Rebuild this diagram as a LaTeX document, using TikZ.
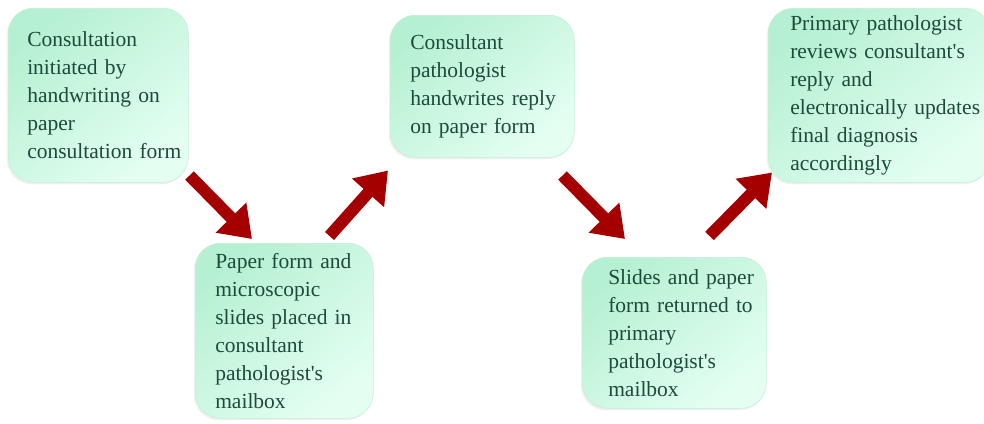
\documentclass[tikz,border=0pt]{standalone}
\usepackage{fontspec}
\setmainfont{Liberation Serif}
\usetikzlibrary{arrows.meta,shadows}
\definecolor{mintdark}{HTML}{B6F0D2}
\definecolor{mintlight}{HTML}{E4FFF2}
\definecolor{mintedge}{HTML}{C2EDD6}
\definecolor{inkgreen}{HTML}{1C4A3B}
\definecolor{arrowred}{HTML}{A50000}
\hyphenpenalty=10000

\begin{document}
\begin{tikzpicture}
  [x=1pt,y=-1pt,
   every node/.style={anchor=north west,rounded corners=25pt,top color=mintdark,
     bottom color=mintlight,shading angle=40,draw=mintedge,line width=0.5pt,
     drop shadow={shadow xshift=-1.5pt,shadow yshift=-2pt,opacity=0.12},
     align=left,inner ysep=0pt,text=inkgreen,font=\fontsize{21.5}{28}\selectfont},
   bigarrow/.style={draw=arrowred,line width=12pt,-{Triangle[width=41pt,length=30pt]}}]
  \useasboundingbox (0,0) rectangle (984,423);
  \node (c1) at (8,8) [text width=142pt,inner xsep=19pt,minimum height=174pt]
    {Consultation\\initiated by\\handwriting on\\paper\\consultation~form};
  \node (c2) at (195,243) [text width=138pt,inner xsep=20pt,minimum height=175pt]
    {Paper form and\\microscopic\\slides placed in\\consultant\\pathologist\textquotesingle s\\mailbox};
  \node (c3) at (390,15) [text width=144pt,inner xsep=20pt,minimum height=142pt]
    {Consultant\\pathologist\\handwrites~reply\\on paper form};
  \node (c4) at (582,257) [text width=132pt,inner xsep=26pt,minimum height=151pt]
    {Slides~and~paper\\form~returned~to\\primary\\pathologist\textquotesingle s\\mailbox};
  \node (c5) at (768,8) [text width=178pt,inner xsep=22pt,minimum height=174pt]
    {Primary pathologist\\reviews~consultant\textquotesingle s\\reply and\\electronically~updates\\final diagnosis\\accordingly};
  % arrow ends
  \coordinate (t1) at ([shift={(1,-7)}]c1.south east);
  \coordinate (h1) at ([shift={(57,-4)}]c2.north west);
  \coordinate (t2) at ([shift={(-44,-7)}]c2.north east);
  \coordinate (h2) at ([shift={(-2,13)}]c3.south west);
  \coordinate (t3) at ([shift={(-12,18)}]c3.south east);
  \coordinate (h3) at ([shift={(43,-18)}]c4.north west);
  \coordinate (t4) at ([shift={(-57,-21)}]c4.north east);
  \coordinate (h4) at ([shift={(4,-10)}]c5.south west);
  \foreach \from/\to in {t1/h1,t2/h2,t3/h3,t4/h4}
    \draw[bigarrow] (\from) -- (\to);
\end{tikzpicture}
\end{document}
